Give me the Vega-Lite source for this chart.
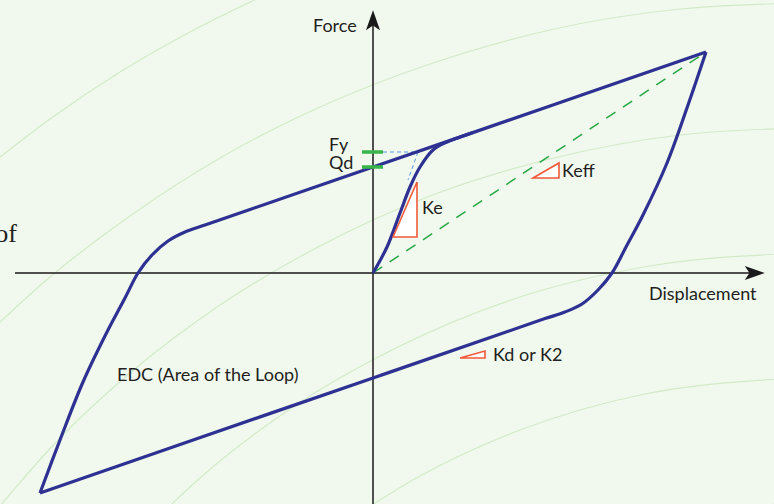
{
  "$schema": "https://vega.github.io/schema/vega-lite/v6.json",
  "width": 774,
  "height": 504,
  "autosize": {"type": "none"},
  "padding": 0,
  "background": "#f1f8ee",
  "view": {"stroke": null},
  "datasets": {
    "arcs": [
      {"arc": "a1", "X": -393, "Y": 100}, {"arc": "a1", "X": -323, "Y": 154}, {"arc": "a1", "X": -253, "Y": 201}, {"arc": "a1", "X": -183, "Y": 241}, {"arc": "a1", "X": -93, "Y": 285},
      {"arc": "a2", "X": -393, "Y": -68}, {"arc": "a2", "X": -323, "Y": -4}, {"arc": "a2", "X": -243, "Y": 57}, {"arc": "a2", "X": -153, "Y": 115}, {"arc": "a2", "X": -53, "Y": 166}, {"arc": "a2", "X": 57, "Y": 209}, {"arc": "a2", "X": 177, "Y": 243}, {"arc": "a2", "X": 307, "Y": 264}, {"arc": "a2", "X": 427, "Y": 270},
      {"arc": "a3", "X": -393, "Y": -257}, {"arc": "a3", "X": -313, "Y": -165}, {"arc": "a3", "X": -243, "Y": -100}, {"arc": "a3", "X": -153, "Y": -32}, {"arc": "a3", "X": -53, "Y": 27}, {"arc": "a3", "X": 57, "Y": 77}, {"arc": "a3", "X": 177, "Y": 114}, {"arc": "a3", "X": 307, "Y": 138}, {"arc": "a3", "X": 427, "Y": 145},
      {"arc": "a4", "X": -223, "Y": -252}, {"arc": "a4", "X": -173, "Y": -205}, {"arc": "a4", "X": -83, "Y": -136}, {"arc": "a4", "X": 27, "Y": -73}, {"arc": "a4", "X": 147, "Y": -24}, {"arc": "a4", "X": 277, "Y": 7}, {"arc": "a4", "X": 427, "Y": 20},
      {"arc": "a5", "X": -23, "Y": -246}, {"arc": "a5", "X": 47, "Y": -203}, {"arc": "a5", "X": 147, "Y": -157}, {"arc": "a5", "X": 267, "Y": -122}, {"arc": "a5", "X": 427, "Y": -105},
      {"arc": "a6", "X": 247, "Y": -255}, {"arc": "a6", "X": 327, "Y": -238}, {"arc": "a6", "X": 427, "Y": -230}
    ],
    "loop": [
      {"branch": "up", "o": 1, "X": -333, "Y": -220}, {"branch": "up", "o": 2, "X": -313, "Y": -167}, {"branch": "up", "o": 3, "X": -290, "Y": -109}, {"branch": "up", "o": 4, "X": -265, "Y": -57}, {"branch": "up", "o": 5, "X": -248, "Y": -25}, {"branch": "up", "o": 6, "X": -235, "Y": 0}, {"branch": "up", "o": 7, "X": -221, "Y": 18}, {"branch": "up", "o": 8, "X": -205, "Y": 32}, {"branch": "up", "o": 9, "X": -188, "Y": 41}, {"branch": "up", "o": 10, "X": -168, "Y": 48}, {"branch": "up", "o": 11, "X": -123, "Y": 63.5}, {"branch": "up", "o": 12, "X": 0, "Y": 106}, {"branch": "up", "o": 13, "X": 177, "Y": 167}, {"branch": "up", "o": 14, "X": 333, "Y": 221},
      {"branch": "down", "o": 1, "X": 333, "Y": 221}, {"branch": "down", "o": 2, "X": 315, "Y": 168}, {"branch": "down", "o": 3, "X": 294, "Y": 110}, {"branch": "down", "o": 4, "X": 270, "Y": 58}, {"branch": "down", "o": 5, "X": 253, "Y": 26}, {"branch": "down", "o": 6, "X": 239, "Y": 0}, {"branch": "down", "o": 7, "X": 225, "Y": -17}, {"branch": "down", "o": 8, "X": 209, "Y": -31}, {"branch": "down", "o": 9, "X": 192, "Y": -39}, {"branch": "down", "o": 10, "X": 172, "Y": -45.6}, {"branch": "down", "o": 11, "X": 123, "Y": -62.5}, {"branch": "down", "o": 12, "X": 0, "Y": -105}, {"branch": "down", "o": 13, "X": -177, "Y": -166}, {"branch": "down", "o": 14, "X": -333, "Y": -220}
    ],
    "initial": [
      {"o": 1, "X": 0, "Y": 0}, {"o": 2, "X": 14, "Y": 26}, {"o": 3, "X": 27, "Y": 60}, {"o": 4, "X": 37, "Y": 86}, {"o": 5, "X": 47, "Y": 106}, {"o": 6, "X": 60, "Y": 123}, {"o": 7, "X": 74, "Y": 131}, {"o": 8, "X": 90, "Y": 137}, {"o": 9, "X": 100, "Y": 140.5}
    ],
    "keff": [{"o": 1, "X": 0, "Y": 0}, {"o": 2, "X": 333, "Y": 221}],
    "yieldguide": [{"o": 1, "X": 10, "Y": 121}, {"o": 2, "X": 45, "Y": 121}, {"o": 3, "X": 35, "Y": 93}],
    "marks": [{"name": "Fy", "X1": -11, "X2": 10, "Y": 121}, {"name": "Qd", "X1": -11, "X2": 10, "Y": 106}],
    "axes": [{"X1": -358, "X2": 380, "Y1": 0, "Y2": 0}, {"X1": 0, "X2": 0, "Y1": -240, "Y2": 250}],
    "tris": [
      {"tri": "Ke", "X": 20, "Yt": 36, "Yb": 36}, {"tri": "Ke", "X": 44, "Yt": 91, "Yb": 36},
      {"tri": "Keff", "X": 160, "Yt": 95, "Yb": 95}, {"tri": "Keff", "X": 186, "Yt": 110, "Yb": 95},
      {"tri": "Kd", "X": 87, "Yt": -85, "Yb": -85}, {"tri": "Kd", "X": 112, "Yt": -78, "Yb": -85}
    ],
    "labels": [
      {"label": "Force", "X": -60, "Y": 241},
      {"label": "Fy", "X": -44, "Y": 122},
      {"label": "Qd", "X": -44, "Y": 104},
      {"label": "Ke", "X": 49, "Y": 59},
      {"label": "Keff", "X": 189, "Y": 96},
      {"label": "Kd or K2", "X": 120, "Y": -88},
      {"label": "Displacement", "X": 276, "Y": -27},
      {"label": "EDC (Area of the Loop)", "X": -256, "Y": -108}
    ],
    "serif": [{"label": "of", "X": -356, "Y": 31}]
  },
  "layer": [
    {
      "data": {"name": "arcs"},
      "mark": {"type": "line", "stroke": "#d3eac8", "strokeWidth": 1.2, "interpolate": "monotone", "clip": true},
      "encoding": {
        "x": {"field": "X", "type": "quantitative", "scale": {"domain": [-373, 401], "nice": false, "zero": false}, "axis": null},
        "y": {"field": "Y", "type": "quantitative", "scale": {"domain": [-231, 273], "nice": false, "zero": false}, "axis": null},
        "detail": {"field": "arc"}
      }
    },
    {
      "data": {"name": "axes"},
      "mark": {"type": "rule", "stroke": "#1a1a1a", "strokeWidth": 1.5},
      "encoding": {
        "x": {"field": "X1", "type": "quantitative", "scale": {"domain": [-373, 401], "nice": false, "zero": false}, "axis": null},
        "x2": {"field": "X2"},
        "y": {"field": "Y1", "type": "quantitative", "scale": {"domain": [-231, 273], "nice": false, "zero": false}, "axis": null},
        "y2": {"field": "Y2"}
      }
    },
    {
      "data": {"values": [{"X": 380, "Y": 0}]},
      "mark": {"type": "point", "shape": "M1,0L-0.7,0.6L-0.3,0L-0.7,-0.6Z", "filled": true, "color": "#1a1a1a", "size": 550, "opacity": 1},
      "encoding": {
        "x": {"field": "X", "type": "quantitative", "scale": {"domain": [-373, 401], "nice": false, "zero": false}, "axis": null},
        "y": {"field": "Y", "type": "quantitative", "scale": {"domain": [-231, 273], "nice": false, "zero": false}, "axis": null}
      }
    },
    {
      "data": {"values": [{"X": 0, "Y": 251}]},
      "mark": {"type": "point", "shape": "M0,-1L0.6,0.7L0,0.3L-0.6,0.7Z", "filled": true, "color": "#1a1a1a", "size": 550, "opacity": 1},
      "encoding": {
        "x": {"field": "X", "type": "quantitative", "scale": {"domain": [-373, 401], "nice": false, "zero": false}, "axis": null},
        "y": {"field": "Y", "type": "quantitative", "scale": {"domain": [-231, 273], "nice": false, "zero": false}, "axis": null}
      }
    },
    {
      "data": {"name": "keff"},
      "mark": {"type": "line", "stroke": "#27a845", "strokeWidth": 1.5, "strokeDash": [11, 9]},
      "encoding": {
        "x": {"field": "X", "type": "quantitative", "scale": {"domain": [-373, 401], "nice": false, "zero": false}, "axis": null},
        "y": {"field": "Y", "type": "quantitative", "scale": {"domain": [-231, 273], "nice": false, "zero": false}, "axis": null},
        "order": {"field": "o"}
      }
    },
    {
      "data": {"name": "yieldguide"},
      "mark": {"type": "line", "stroke": "#5b9fe0", "strokeWidth": 1, "strokeDash": [4, 3]},
      "encoding": {
        "x": {"field": "X", "type": "quantitative", "scale": {"domain": [-373, 401], "nice": false, "zero": false}, "axis": null},
        "y": {"field": "Y", "type": "quantitative", "scale": {"domain": [-231, 273], "nice": false, "zero": false}, "axis": null},
        "order": {"field": "o"}
      }
    },
    {
      "data": {"name": "loop"},
      "mark": {"type": "line", "stroke": "#2e3192", "strokeWidth": 3.2, "interpolate": "catmull-rom", "strokeJoin": "miter"},
      "encoding": {
        "x": {"field": "X", "type": "quantitative", "scale": {"domain": [-373, 401], "nice": false, "zero": false}, "axis": null},
        "y": {"field": "Y", "type": "quantitative", "scale": {"domain": [-231, 273], "nice": false, "zero": false}, "axis": null},
        "detail": {"field": "branch"},
        "order": {"field": "o"}
      }
    },
    {
      "data": {"name": "initial"},
      "mark": {"type": "line", "stroke": "#2e3192", "strokeWidth": 3.2, "interpolate": "catmull-rom"},
      "encoding": {
        "x": {"field": "X", "type": "quantitative", "scale": {"domain": [-373, 401], "nice": false, "zero": false}, "axis": null},
        "y": {"field": "Y", "type": "quantitative", "scale": {"domain": [-231, 273], "nice": false, "zero": false}, "axis": null},
        "order": {"field": "o"}
      }
    },
    {
      "data": {"name": "marks"},
      "mark": {"type": "rule", "stroke": "#3ab54a", "strokeWidth": 3.5},
      "encoding": {
        "x": {"field": "X1", "type": "quantitative", "scale": {"domain": [-373, 401], "nice": false, "zero": false}, "axis": null},
        "x2": {"field": "X2"},
        "y": {"field": "Y", "type": "quantitative", "scale": {"domain": [-231, 273], "nice": false, "zero": false}, "axis": null}
      }
    },
    {
      "data": {"name": "tris"},
      "mark": {"type": "area", "fill": "#ffffff", "fillOpacity": 1, "stroke": "#f15a3a", "strokeWidth": 1.6, "orient": "vertical"},
      "encoding": {
        "x": {"field": "X", "type": "quantitative", "scale": {"domain": [-373, 401], "nice": false, "zero": false}, "axis": null},
        "y": {"field": "Yt", "type": "quantitative", "scale": {"domain": [-231, 273], "nice": false, "zero": false}, "axis": null},
        "y2": {"field": "Yb"},
        "detail": {"field": "tri"}
      }
    },
    {
      "data": {"name": "labels"},
      "mark": {"type": "text", "font": "Lato", "fontSize": 18, "align": "left", "baseline": "alphabetic", "color": "#231f20"},
      "encoding": {
        "x": {"field": "X", "type": "quantitative", "scale": {"domain": [-373, 401], "nice": false, "zero": false}, "axis": null},
        "y": {"field": "Y", "type": "quantitative", "scale": {"domain": [-231, 273], "nice": false, "zero": false}, "axis": null},
        "text": {"field": "label"}
      }
    },
    {
      "data": {"name": "serif"},
      "mark": {"type": "text", "font": "Liberation Serif", "fontSize": 26, "align": "right", "baseline": "alphabetic", "color": "#231f20"},
      "encoding": {
        "x": {"field": "X", "type": "quantitative", "scale": {"domain": [-373, 401], "nice": false, "zero": false}, "axis": null},
        "y": {"field": "Y", "type": "quantitative", "scale": {"domain": [-231, 273], "nice": false, "zero": false}, "axis": null},
        "text": {"field": "label"}
      }
    }
  ]
}
